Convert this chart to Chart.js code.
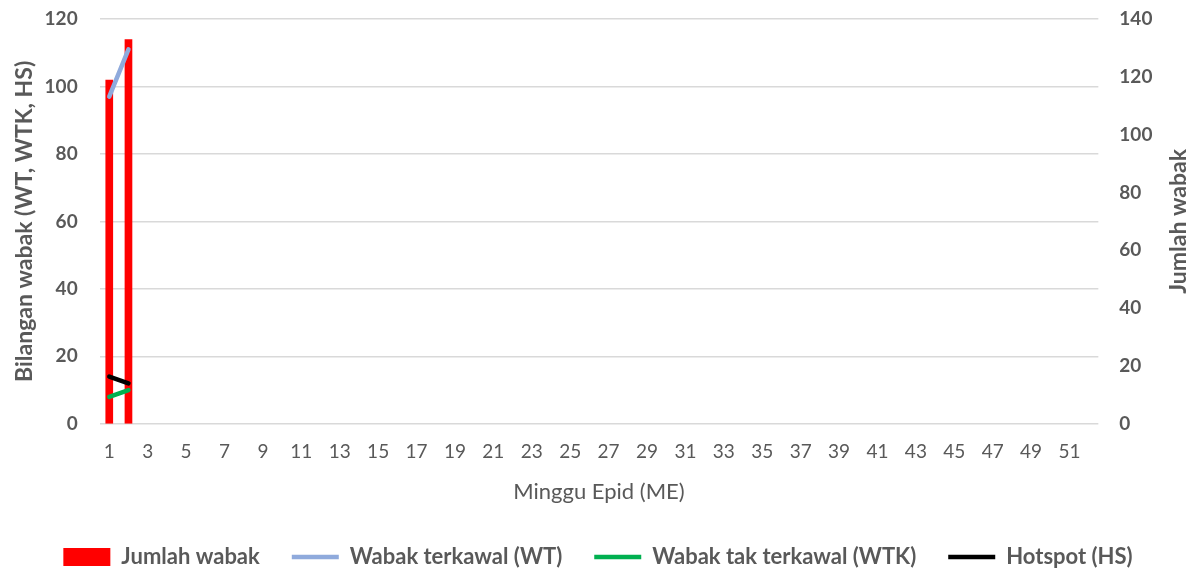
<!DOCTYPE html>
<html>
<head>
<meta charset="utf-8">
<script src="https://cdn.jsdelivr.net/npm/chart.js@4/dist/chart.umd.min.js"></script>
<style>
  html, body { margin: 0; padding: 0; background: #fff; }
  #wrap { width: 1197px; height: 576px; position: relative; }
</style>
</head>
<body>
<div id="wrap"><canvas id="chart"></canvas></div>
<script>
// weeks 1..52
var weeks = [];
for (var w = 1; w <= 52; w++) weeks.push(String(w));

var jumlahWabak = [119, 133];        // right axis
var wabakTerkawal = [97, 111];       // left axis
var wabakTakTerkawal = [8, 10];
var hotspot = [14, 12];

var grey = '#595959';
var fontFamily = 'Lato, "Open Sans", sans-serif';

// right axis title reads bottom-to-top in the original, draw it ourselves
var rightTitle = {
    id: 'rightTitle',
    afterDraw(chart) {
        var s = chart.scales.y2;
        var area = chart.chartArea;
        var c = chart.ctx;
        c.save();
        c.translate(s.right - 13.8, (area.top + area.bottom) / 2);
        c.rotate(-Math.PI / 2);
        c.fillStyle = grey;
        c.font = 'bold 23px ' + fontFamily;
        c.textAlign = 'center';
        c.textBaseline = 'middle';
        c.fillText('Jumlah wabak', 0, 0);
        c.restore();
    }
};

var ctx = document.getElementById('chart').getContext('2d');
var chart = new Chart(ctx, {
    type: 'bar',
    data: {
        labels: weeks,
        datasets: [
            {
                type: 'bar',
                label: 'Jumlah wabak',
                data: jumlahWabak,
                backgroundColor: '#FF0000',
                borderWidth: 0,
                yAxisID: 'y2',
                barPercentage: 0.4,
                categoryPercentage: 1,
                order: 1,
                pointStyle: 'rect'
            },
            {
                type: 'line',
                label: 'Wabak terkawal (WT)',
                data: wabakTerkawal,
                borderColor: '#8FAADC',
                backgroundColor: '#8FAADC',
                borderWidth: 4.5,
                borderCapStyle: 'round',
                pointRadius: 0,
                yAxisID: 'y',
                order: 0,
                pointStyle: 'line'
            },
            {
                type: 'line',
                label: 'Wabak tak terkawal (WTK)',
                data: wabakTakTerkawal,
                borderColor: '#00B050',
                backgroundColor: '#00B050',
                borderWidth: 4.5,
                borderCapStyle: 'round',
                pointRadius: 0,
                yAxisID: 'y',
                order: 0,
                pointStyle: 'line'
            },
            {
                type: 'line',
                label: 'Hotspot (HS)',
                data: hotspot,
                borderColor: '#000000',
                backgroundColor: '#000000',
                borderWidth: 4.5,
                borderCapStyle: 'round',
                pointRadius: 0,
                yAxisID: 'y',
                order: 0,
                pointStyle: 'line'
            }
        ]
    },
    options: {
        responsive: true,
        maintainAspectRatio: false,
        animation: false,
        layout: { padding: { left: 4, right: 5, top: 19, bottom: -2 } },
        plugins: {
            tooltip: { enabled: false },
            legend: {
                position: 'bottom',
                labels: {
                    usePointStyle: true,
                    pointStyleWidth: 47,
                    boxHeight: 18,
                    padding: 32,
                    color: grey,
                    font: { family: fontFamily, size: 22, weight: 'bold' },
                    sort: (a, b) => a.datasetIndex - b.datasetIndex
                }
            }
        },
        scales: {
            x: {
                grid: { display: false, drawTicks: true, tickLength: 17 },
                border: { display: false },
                ticks: {
                    autoSkip: false,
                    maxRotation: 0,
                    color: grey,
                    font: { family: fontFamily, size: 19 },
                    padding: 0,
                    callback: function (v, i) { return i % 2 === 0 ? this.getLabelForValue(v) : ''; }
                },
                title: {
                    display: true,
                    text: 'Minggu Epid (ME)',
                    color: grey,
                    font: { family: fontFamily, size: 22 },
                    padding: { top: 15, bottom: 9 }
                }
            },
            y: {
                position: 'left',
                min: 0, max: 120,
                ticks: {
                    stepSize: 20,
                    color: grey,
                    font: { family: fontFamily, size: 19, weight: 'bold' },
                    padding: 0
                },
                grid: { color: '#D9D9D9', lineWidth: 1.5, drawTicks: true, tickLength: 22, tickColor: 'rgba(0,0,0,0)' },
                border: { display: false },
                title: {
                    display: true,
                    text: 'Bilangan wabak (WT, WTK, HS)',
                    color: grey,
                    font: { family: fontFamily, size: 23, weight: 'bold' },
                    padding: { top: 7, bottom: 6 }
                }
            },
            y2: {
                position: 'right',
                min: 0, max: 140,
                ticks: {
                    stepSize: 20,
                    color: grey,
                    font: { family: fontFamily, size: 19, weight: 'bold' },
                    padding: 0
                },
                grid: { display: false, drawTicks: true, tickLength: 21 },
                border: { display: false },
                title: {
                    display: true,
                    text: 'Jumlah wabak',
                    color: 'rgba(0,0,0,0)',
                    font: { family: fontFamily, size: 23, weight: 'bold' },
                    padding: { top: 12, bottom: 0 }
                }
            }
        }
    },
    plugins: [rightTitle]
});
</script>
</body>
</html>
